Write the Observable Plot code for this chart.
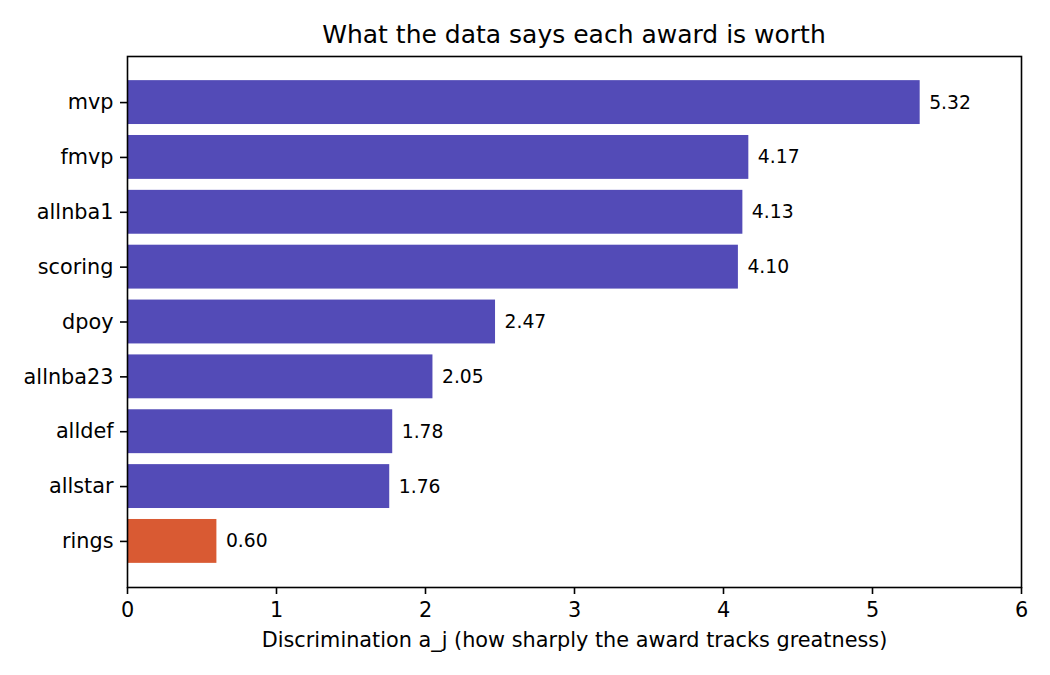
<!DOCTYPE html>
<html>
<head>
<meta charset="utf-8">
<script src="https://cdn.jsdelivr.net/npm/d3@7"></script>
<script src="https://cdn.jsdelivr.net/npm/@observablehq/plot@0.6"></script>
<style>
  html, body { margin: 0; padding: 0; background: #fff; }
  #wrap { width: 1050px; height: 675px; position: relative; font-family: "DejaVu Sans", sans-serif; }
  #title { position: relative; height: 46px; }
  #title span { position: absolute; left: 127px; width: 894px; top: 22px; text-align: center;
    font-size: 25px; line-height: 25px; color: #000; white-space: nowrap; }
  svg { display: block; }
</style>
</head>
<body>
<div id="wrap">
  <div id="title"><span>What the data says each award is worth</span></div>
  <div id="chart"></div>
</div>
<script>
const awards = ["mvp", "fmvp", "allnba1", "scoring", "dpoy", "allnba23", "alldef", "allstar", "rings"];
const discrimination = [5.32, 4.17, 4.13, 4.10, 2.47, 2.05, 1.78, 1.76, 0.60];
const highlighted = ["rings"];
const xTicks = [0, 1, 2, 3, 4, 5, 6];
const xLabel = "Discrimination a_j (how sharply the award tracks greatness)";

const rows = awards.map((a, i) => ({award: a, value: discrimination[i], hl: highlighted.includes(a)}));

const chart = Plot.plot({
  width: 1050,
  height: 629,
  marginLeft: 127,
  marginRight: 29,
  marginTop: 10,
  marginBottom: 88,
  style: {fontFamily: "DejaVu Sans, sans-serif", fontSize: "20.8px", color: "#000", background: "#fff", overflow: "visible"},
  x: {domain: [0, 6], ticks: xTicks},
  y: {domain: awards, paddingInner: 0.2, paddingOuter: 0.44, round: false},
  marks: [
    Plot.barX(rows, {x: "value", y: "award", fill: d => d.hl ? "#d95a33" : "#534bb7"}),
    Plot.text(rows, {x: "value", y: "award", text: d => d.value.toFixed(2), textAnchor: "start", dx: 9, fontSize: 18.75, fill: "#000"}),
    Plot.frame({stroke: "#000", strokeWidth: 1.6}),
    Plot.axisX({ticks: xTicks, tickFormat: d => String(d), tickSize: 7, tickPadding: 8, strokeWidth: 1.6, label: null, fontSize: 20.8}),
    Plot.axisY({tickSize: 7, tickPadding: 7, strokeWidth: 1.6, label: null, fontSize: 20.8}),
    Plot.text([xLabel], {text: d => d, frameAnchor: "bottom", dy: 59, lineAnchor: "bottom", fontSize: 20.8, fill: "#000"})
  ]
});
document.getElementById("chart").appendChild(chart);
</script>
</body>
</html>
